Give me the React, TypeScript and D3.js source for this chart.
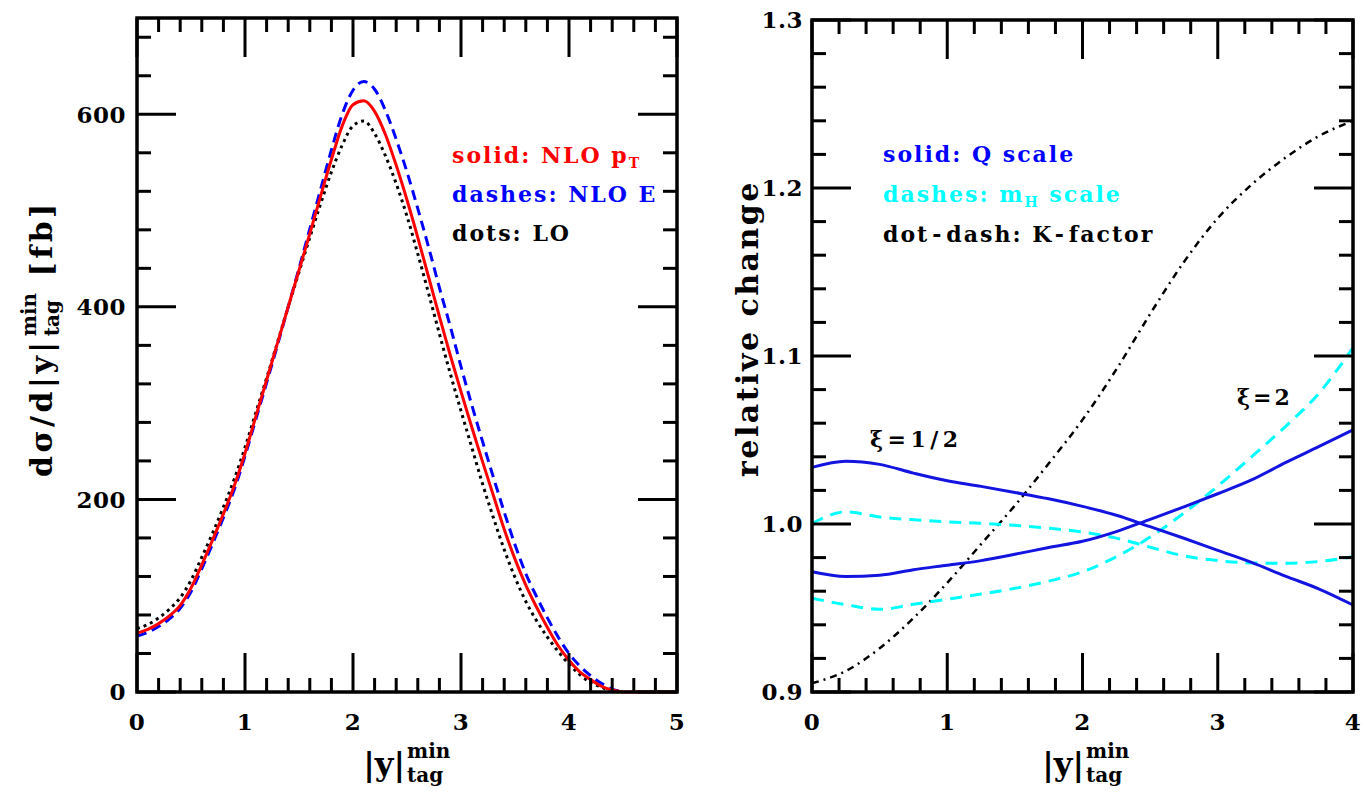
import React, { useLayoutEffect, useRef, useState } from "react";
import * as d3 from "d3";

// ---------------- data ----------------
const leftXs = [
  0, 0.1, 0.2, 0.3, 0.4, 0.5, 0.6, 0.7, 0.8, 0.9, 1.0, 1.1, 1.2, 1.3, 1.4, 1.5, 1.6, 1.7, 1.8, 1.9,
  2.0, 2.1, 2.2, 2.3, 2.4, 2.5, 2.6, 2.7, 2.8, 2.9, 3.0, 3.1, 3.2, 3.3, 3.4, 3.5, 3.6, 3.7, 3.8, 3.9,
  4.0, 4.1, 4.2, 4.3, 4.4, 4.5,
];
const nloPt = [
  61, 65, 71, 79, 90, 108, 132, 158, 185, 214, 248, 286, 324, 362, 400, 438, 476, 515, 553, 588,
  610, 614, 603, 579, 547, 511, 472, 431, 390, 350, 312, 275, 239, 204, 169, 138, 111, 88, 67, 48,
  33, 21, 13, 6, 2, 0,
];
const nloE = [
  58, 62, 68, 76, 87, 104, 128, 154, 181, 210, 245, 283, 321, 360, 400, 440, 481, 522, 563, 600,
  625, 634, 626, 604, 574, 540, 502, 462, 420, 380, 338, 298, 260, 223, 187, 153, 123, 99, 77, 57,
  40, 27, 17, 9, 3, 0,
];
const lo = [
  66, 70, 77, 86, 98, 116, 140, 165, 192, 221, 254, 290, 326, 363, 400, 436, 472, 507, 540, 568,
  588, 593, 580, 557, 528, 494, 455, 414, 372, 331, 292, 254, 216, 181, 148, 119, 94, 74, 57, 42,
  29, 18, 10, 5, 1, 0,
];
const redTailXs = [4.5, 4.75, 5.0];
const redTailYs = [0, 0, 0];

const rightXs = [0, 0.25, 0.5, 0.75, 1.0, 1.25, 1.5, 1.75, 2.0, 2.25, 2.5, 2.75, 3.0, 3.25, 3.5, 3.75, 4.0];
const qHalf = [1.0337, 1.0374, 1.0355, 1.0303, 1.0257, 1.0224, 1.0188, 1.015, 1.0105, 1.0052, 0.9984, 0.9915, 0.9843, 0.9772, 0.969, 0.9613, 0.9518];
const qTwo = [0.9716, 0.9688, 0.9695, 0.9728, 0.9755, 0.9782, 0.982, 0.986, 0.9897, 0.9955, 1.0028, 1.0102, 1.018, 1.0262, 1.0365, 1.0462, 1.056];
const mhHalf = [1.0004, 1.0072, 1.0042, 1.0025, 1.0013, 1.0004, 0.9992, 0.9975, 0.9952, 0.9916, 0.9862, 0.981, 0.9782, 0.9768, 0.9766, 0.9777, 0.9805];
const mhTwo = [0.9558, 0.952, 0.9492, 0.9522, 0.9552, 0.9583, 0.9617, 0.966, 0.9715, 0.9805, 0.9922, 1.0065, 1.0225, 1.04, 1.058, 1.078, 1.105];
const kFactor = [0.9052, 0.9125, 0.926, 0.944, 0.965, 0.988, 1.011, 1.036, 1.062, 1.092, 1.125, 1.156, 1.182, 1.202, 1.218, 1.231, 1.24];

const leftXTicks = [0, 1, 2, 3, 4, 5];
const leftYTicks = [0, 200, 400, 600];
const rightXTicks = [0, 1, 2, 3, 4];
const rightYTicks = [0.9, 1.0, 1.1, 1.2, 1.3];

// ---------------- styling ----------------
const FONT = "'DejaVu Serif', serif";
const RED = "#ff0000";
const BLUE = "#0000ff";
const BLUE2 = "#1414e0";
const CYAN = "#00ffff";

const lx = d3.scaleLinear().domain([0, 5]).range([137, 677]);
const ly = d3.scaleLinear().domain([0, 700]).range([692, 18]);
const rx = d3.scaleLinear().domain([0, 4]).range([812, 1353]);
const ry = d3.scaleLinear().domain([0.9, 1.3]).range([692, 20]);

function path(xs: number[], ys: number[], sx: any, sy: any) {
  const line = d3
    .line<number>()
    .x((_, i) => sx(xs[i]))
    .y((d) => sy(d))
    .curve(d3.curveMonotoneX);
  return line(ys) || "";
}

function Frame({ sx, sy, xMinorStep, yMinorStep }: any) {
  const [x0, x1] = sx.range();
  const [y0, y1] = sy.range();
  const [dx0, dx1] = sx.domain();
  const [dy0, dy1] = sy.domain();
  const MAJ = 39;
  const MIN = 14;
  const xMinor = d3.range(dx0, dx1 + 1e-9, xMinorStep);
  const yMinor = d3.range(dy0, dy1 + 1e-9, yMinorStep);
  const isMajorX = (v: number) => Math.abs(v - Math.round(v)) < 1e-6;
  const yMajStep = yMinorStep * 5;
  const isMajorY = (v: number) => Math.abs((v - dy0) / yMajStep - Math.round((v - dy0) / yMajStep)) < 1e-6;
  const els: any[] = [];
  xMinor.forEach((v, i) => {
    const L = isMajorX(v) ? MAJ : MIN;
    const X = sx(v);
    els.push(<line key={"xb" + i} x1={X} x2={X} y1={y0} y2={y0 - L} />);
    els.push(<line key={"xt" + i} x1={X} x2={X} y1={y1} y2={y1 + L} />);
  });
  yMinor.forEach((v, i) => {
    const L = isMajorY(v) ? MAJ : MIN;
    const Y = sy(v);
    els.push(<line key={"yl" + i} x1={x0} x2={x0 + L} y1={Y} y2={Y} />);
    els.push(<line key={"yr" + i} x1={x1} x2={x1 - L} y1={Y} y2={Y} />);
  });
  return (
    <g stroke="#000" strokeWidth={3} fill="none">
      {els}
      <rect x={x0} y={y1} width={x1 - x0} height={y0 - y1} strokeWidth={3.5} />
    </g>
  );
}

function Stacked({ x, y, rotate = 0, base, sup, sub, tail, size, small, center, supShift, subShift, ls = 0, tailGap = 14 }: any) {
  const bRef = useRef<SVGTextElement>(null);
  const pRef = useRef<SVGTextElement>(null);
  const sRef = useRef<SVGTextElement>(null);
  const tRef = useRef<SVGTextElement>(null);
  const [w, setW] = useState({ b: 0, p: 0, s: 0, t: 0 });
  useLayoutEffect(() => {
    const m = (r: any) => (r.current ? r.current.getBBox().width : 0);
    setW({ b: m(bRef), p: m(pRef), s: m(sRef), t: m(tRef) });
  }, []);
  const gap = 2;
  const sw = Math.max(w.p, w.s);
  const tailX = w.b + gap + sw + tailGap;
  const total = tail ? tailX + w.t : w.b + gap + sw;
  const off = center ? -total / 2 : 0;
  return (
    <g transform={`translate(${x},${y}) rotate(${rotate}) translate(${off},0)`} fontFamily={FONT} fontWeight="bold" fill="#000">
      <text ref={bRef} x={0} y={0} fontSize={size} letterSpacing={ls}>{base}</text>
      <text ref={pRef} x={w.b + gap} y={-supShift} fontSize={small}>{sup}</text>
      <text ref={sRef} x={w.b + gap} y={subShift} fontSize={small}>{sub}</text>
      {tail ? <text ref={tRef} x={tailX} y={0} fontSize={size} letterSpacing={ls}>{tail}</text> : null}
    </g>
  );
}

export default function App() {
  const tickFont = { fontFamily: FONT, fontWeight: "bold" as const, fontSize: 23, fill: "#000", letterSpacing: 0.5 };
  const legFont = { fontFamily: FONT, fontWeight: "bold" as const, fontSize: 22, letterSpacing: 2 };
  return (
    <svg width={1364} height={792} style={{ position: "absolute", left: 0, top: 0, background: "#fff" }}>
      {/* ---------- left panel ---------- */}
      <path d={path(leftXs, lo, lx, ly)} fill="none" stroke="#000" strokeWidth={3} strokeDasharray="3 4" />
      <path d={path(leftXs, nloE, lx, ly)} fill="none" stroke={BLUE} strokeWidth={3} strokeDasharray="10 6" />
      <path d={path(leftXs, nloPt, lx, ly)} fill="none" stroke={RED} strokeWidth={3} />
      <path d={path(redTailXs, redTailYs, lx, ly)} fill="none" stroke={RED} strokeWidth={3} />
      <Frame sx={lx} sy={ly} xMinorStep={0.2} yMinorStep={40} />
      {leftYTicks.map((v) => (
        <text key={"ly" + v} x={126} y={ly(v)} dy="0.36em" textAnchor="end" {...tickFont}>{v}</text>
      ))}
      {leftXTicks.map((v) => (
        <text key={"lx" + v} x={lx(v)} y={730} textAnchor="middle" {...tickFont}>{v}</text>
      ))}
      <text x={452} y={163} fill={RED} {...legFont}>
        solid: NLO p<tspan fontSize={14} dy={5}>T</tspan>
      </text>
      <text x={452} y={202} fill={BLUE} {...legFont}>dashes: NLO E</text>
      <text x={452} y={241} fill="#000" {...legFont}>dots: LO</text>
      <Stacked x={407} y={775} base="|y|" sup="min" sub="tag" size={32} small={20} center supShift={17} subShift={7} />
      <Stacked x={52} y={477} rotate={-90} base="dσ/d|y|" sup="min" sub="tag" tail="[fb]" size={30} small={20} supShift={16} subShift={7} ls={3.5} tailGap={16} />

      {/* ---------- right panel ---------- */}
      <path d={path(rightXs, kFactor, rx, ry)} fill="none" stroke="#000" strokeWidth={2.5} strokeDasharray="7 5 2 5" />
      <path d={path(rightXs, mhHalf, rx, ry)} fill="none" stroke={CYAN} strokeWidth={3} strokeDasharray="12 8" />
      <path d={path(rightXs, mhTwo, rx, ry)} fill="none" stroke={CYAN} strokeWidth={3} strokeDasharray="12 8" />
      <path d={path(rightXs, qHalf, rx, ry)} fill="none" stroke={BLUE2} strokeWidth={3} />
      <path d={path(rightXs, qTwo, rx, ry)} fill="none" stroke={BLUE2} strokeWidth={3} />
      <Frame sx={rx} sy={ry} xMinorStep={0.2} yMinorStep={0.02} />
      {rightYTicks.map((v) => (
        <text key={"ry" + v} x={803} y={ry(v)} dy="0.36em" textAnchor="end" {...tickFont}>{v.toFixed(1)}</text>
      ))}
      {rightXTicks.map((v) => (
        <text key={"rx" + v} x={rx(v)} y={730} textAnchor="middle" {...tickFont}>{v}</text>
      ))}
      <text x={883} y={162} fill={BLUE} {...legFont}>solid: Q scale</text>
      <text x={883} y={202} fill={CYAN} {...legFont}>
        dashes: m<tspan fontSize={14} dy={5}>H</tspan><tspan dy={-5}> scale</tspan>
      </text>
      <text x={883} y={242} fill="#000" {...legFont}>
        dot<tspan dx={3}>-</tspan><tspan dx={3}>dash: K</tspan><tspan dx={3}>-</tspan><tspan dx={3}>factor</tspan>
      </text>
      <text x={870} y={447} fill="#000" {...legFont} letterSpacing={4.5}>ξ=1/2</text>
      <text x={1237} y={405} fill="#000" {...legFont} letterSpacing={3}>ξ=2</text>
      <Stacked x={1086} y={775} base="|y|" sup="min" sub="tag" size={32} small={20} center supShift={17} subShift={7} />
      <text transform="translate(758,477) rotate(-90)" fontFamily={FONT} fontWeight="bold" fontSize={30} letterSpacing={2.5} fill="#000">
        relative change
      </text>
    </svg>
  );
}
